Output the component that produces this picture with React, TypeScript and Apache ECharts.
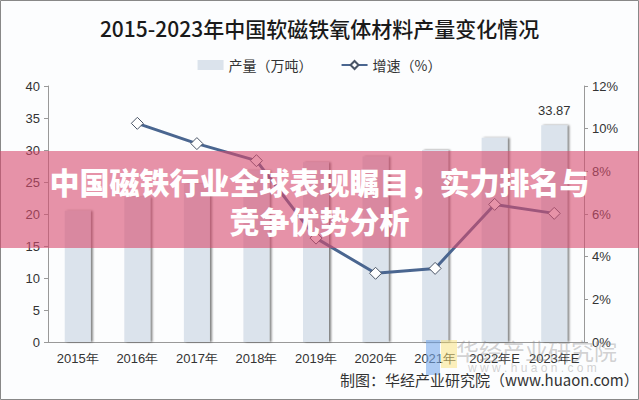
import React, { useEffect, useRef } from "react";
import * as echarts from "echarts";

const categories = ["2015年", "2016年", "2017年", "2018年", "2019年", "2020年", "2021年", "2022年E", "2023年E"];
const output = [20.5, 22.6, 24.7, 26.8, 28.1, 29.0, 30.0, 31.9, 33.87];
const growth = [null, 10.25, 9.3, 8.5, 4.87, 3.22, 3.45, 6.45, 6.03];
const leftTicks = [0, 5, 10, 15, 20, 25, 30, 35, 40];
const rightTicks = [0, 2, 4, 6, 8, 10, 12];

export default function App() {
  const ref = useRef<HTMLDivElement>(null);
  useEffect(() => {
    if (!ref.current) return;
    const chart = echarts.init(ref.current, null, { renderer: "svg" });
    const axisFont = { fontFamily: "Liberation Sans, Arial, sans-serif", fontSize: 13, color: "#333" };
    chart.setOption({
      animation: false,
      backgroundColor: "#fcfdfe",
      title: {
        text: "2015-2023年中国软磁铁氧体材料产量变化情况",
        left: "center",
        top: 12,
        textStyle: { fontFamily: "Noto Sans CJK SC", fontSize: 21, fontWeight: 500, color: "#1a1a1a" },
      },
      legend: {
        top: 53,
        left: "center",
        itemGap: 28,
        itemWidth: 26,
        itemHeight: 10,
        textStyle: { fontFamily: "Noto Sans CJK SC", fontSize: 14, color: "#333" },
        data: [
          { name: "产量（万吨）", icon: "rect" },
          { name: "增速（%）" },
        ],
      },
      grid: { left: 48, right: 55, top: 86, bottom: 58 },
      xAxis: {
        type: "category",
        data: categories,
        axisLine: { lineStyle: { color: "#999" } },
        axisTick: { lineStyle: { color: "#999" }, length: 5 },
        axisLabel: { ...axisFont, margin: 10, interval: 0, hideOverlap: false },
      },
      yAxis: [
        {
          type: "value",
          min: leftTicks[0],
          max: leftTicks[leftTicks.length - 1],
          interval: 5,
          axisLine: { show: true, lineStyle: { color: "#999" } },
          axisTick: { show: true, length: 4, lineStyle: { color: "#999" } },
          splitLine: { show: false },
          axisLabel: { ...axisFont, margin: 8 },
        },
        {
          type: "value",
          min: rightTicks[0],
          max: rightTicks[rightTicks.length - 1],
          interval: 2,
          axisLine: { show: true, lineStyle: { color: "#999" } },
          axisTick: { show: true, length: 4, lineStyle: { color: "#999" } },
          splitLine: { show: false },
          axisLabel: { ...axisFont, margin: 8, formatter: "{value}%" },
        },
      ],
      series: [
        {
          name: "产量（万吨）",
          type: "bar",
          barWidth: 26,
          itemStyle: {
            color: "#dbe3ec",
            shadowColor: "rgba(0,0,0,0.5)",
            shadowBlur: 2,
            shadowOffsetX: 2,
          },
          data: output.map((v, i) =>
            i === output.length - 1
              ? { value: v, label: { show: true, position: "top", distance: 8, ...axisFont } }
              : v
          ),
        },
        {
          name: "增速（%）",
          type: "line",
          yAxisIndex: 1,
          data: growth,
          symbol: "diamond",
          symbolSize: 12,
          lineStyle: { color: "#4a6690", width: 3 },
          itemStyle: { color: "#ffffff", borderColor: "#4a5566", borderWidth: 1 },
          z: 5,
        },
      ],
      graphic: [
        {
          type: "rect",
          shape: { x: 0.5, y: 0.5, width: 638, height: 399 },
          style: { fill: "none", stroke: "#888", lineWidth: 1 },
          z: 100,
        },
        {
          type: "rect",
          shape: { x: 426, y: 340, width: 14, height: 35 },
          style: { fill: "rgba(120,170,235,0.6)" },
          z: 50,
        },
        {
          type: "rect",
          shape: { x: 441, y: 340, width: 16, height: 28 },
          style: { fill: "rgba(250,225,120,0.5)" },
          z: 50,
        },
        {
          type: "text",
          x: 456,
          y: 338,
          style: {
            text: "华经产业研究院",
            fontFamily: "Noto Sans CJK SC",
            fontSize: 23,
            fill: "rgba(140,140,140,0.4)",
          },
          z: 50,
        },
        {
          type: "text",
          x: 468,
          y: 362,
          style: {
            text: "w w w . h u a o n . c o m",
            fontFamily: "Liberation Sans",
            fontSize: 12,
            fill: "rgba(140,140,140,0.4)",
          },
          z: 50,
        },
        {
          type: "text",
          x: 340,
          y: 372,
          style: {
            text: "制图：华经产业研究院（www.huaon.com）",
            fontFamily: "Noto Sans CJK SC",
            fontSize: 15,
            fill: "#333",
          },
          z: 60,
        },
        {
          type: "rect",
          shape: { x: 0, y: 151, width: 639, height: 97 },
          style: { fill: "rgba(215,75,110,0.6)" },
          z: 200,
        },
        {
          type: "text",
          x: 319.5,
          y: 181,
          style: {
            text: "中国磁铁行业全球表现瞩目，实力排名与",
            fontFamily: "Noto Sans CJK SC",
            fontSize: 30,
            fontWeight: 900,
            fill: "#ffffff",
            align: "center",
            verticalAlign: "middle",
          },
          z: 210,
        },
        {
          type: "text",
          x: 319.5,
          y: 220,
          style: {
            text: "竞争优势分析",
            fontFamily: "Noto Sans CJK SC",
            fontSize: 30,
            fontWeight: 900,
            fill: "#ffffff",
            align: "center",
            verticalAlign: "middle",
          },
          z: 210,
        },
      ],
    });
    return () => chart.dispose();
  }, []);
  return <div ref={ref} style={{ position: "fixed", left: 0, top: 0, width: 639, height: 400 }} />;
}
